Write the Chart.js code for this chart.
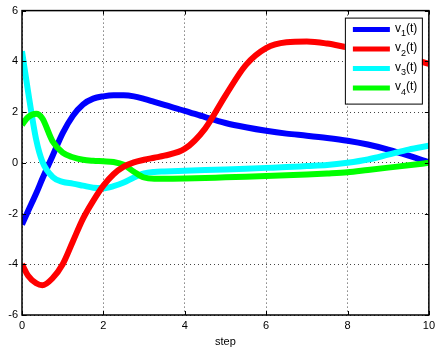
<!DOCTYPE html>
<html>
<head>
<meta charset="utf-8">
<script src="https://cdn.jsdelivr.net/npm/chart.js@4"></script>
<style>
  html, body { margin: 0; padding: 0; background: #fff; }
  #chart { display: block; }
</style>
</head>
<body>
<canvas id="chart" width="439" height="349"></canvas>
<script>
const steps = [0, 0.15, 0.35, 0.5, 0.75, 1, 1.25, 1.5, 1.75, 2, 2.25, 2.5, 2.75, 3, 3.25, 3.5, 4, 4.5, 5, 5.5, 6, 6.5, 7, 7.5, 8, 8.5, 9, 9.5, 10];

const v1 = [-2.43, -1.9, -1.2, -0.63, 0.27, 1.17, 1.85, 2.3, 2.53, 2.62, 2.66, 2.66, 2.62, 2.52, 2.4, 2.28, 2.05, 1.8, 1.57, 1.4, 1.26, 1.15, 1.07, 0.98, 0.87, 0.72, 0.52, 0.28, 0.02];
const v2 = [-4.0, -4.45, -4.75, -4.83, -4.55, -4.0, -3.1, -2.2, -1.5, -0.9, -0.45, -0.15, 0.02, 0.12, 0.2, 0.28, 0.55, 1.35, 2.65, 3.85, 4.52, 4.75, 4.78, 4.7, 4.55, 4.42, 4.28, 4.12, 3.9];
const v3 = [4.4, 2.8, 0.9, 0.05, -0.55, -0.75, -0.82, -0.9, -0.98, -1.0, -0.92, -0.78, -0.58, -0.42, -0.36, -0.34, -0.31, -0.28, -0.26, -0.23, -0.2, -0.17, -0.13, -0.09, 0.0, 0.13, 0.32, 0.52, 0.67];
const v4 = [1.5, 1.8, 1.93, 1.75, 0.85, 0.4, 0.22, 0.12, 0.08, 0.06, 0.03, -0.08, -0.35, -0.58, -0.63, -0.63, -0.62, -0.6, -0.57, -0.55, -0.52, -0.49, -0.46, -0.42, -0.37, -0.28, -0.19, -0.1, 0.0];

const seriesNames = ["v₁(t)", "v₂(t)", "v₃(t)", "v₄(t)"];
const subs = ["1", "2", "3", "4"];
const colors = ["#0000ff", "#ff0000", "#00ffff", "#00ff00"];
const drawOrder = [3, 0, 2, 1]; // lower = on top
const xTicks = [0, 2, 4, 6, 8, 10];
const yTicks = [-6, -4, -2, 0, 2, 4, 6];

const FONT = "'Liberation Sans', Arial, Helvetica, sans-serif";

const toPoints = (ys) => steps.map((x, i) => ({ x: x, y: ys[i] }));

// MATLAB style box with inward ticks on all four sides
const boxPlugin = {
  id: "box",
  afterDatasetsDraw(chart) {
    const { ctx, chartArea: a, scales } = chart;
    ctx.save();
    ctx.strokeStyle = "#000";
    ctx.lineWidth = 1;
    ctx.beginPath();
    xTicks.forEach((t) => {
      const px = Math.round(scales.x.getPixelForValue(t)) + 0.5;
      ctx.moveTo(px, a.bottom); ctx.lineTo(px, a.bottom - 4);
      ctx.moveTo(px, a.top); ctx.lineTo(px, a.top + 4);
    });
    yTicks.forEach((t) => {
      const py = Math.round(scales.y.getPixelForValue(t)) + 0.5;
      ctx.moveTo(a.left, py); ctx.lineTo(a.left + 4, py);
      ctx.moveTo(a.right, py); ctx.lineTo(a.right - 4, py);
    });
    ctx.stroke();
    ctx.lineWidth = 1.5;
    ctx.strokeRect(a.left, a.top, a.right - a.left, a.bottom - a.top);
    ctx.restore();
  },
};

// legend box in the upper right, with subscript text
const legendPlugin = {
  id: "matLegend",
  afterDraw(chart) {
    const { ctx, chartArea: a } = chart;
    const w = 77, h = 86;
    const x0 = a.right - w - 7, y0 = a.top + 7;
    ctx.save();
    ctx.fillStyle = "#fff";
    ctx.fillRect(x0, y0, w, h);
    ctx.strokeStyle = "#000";
    ctx.lineWidth = 1;
    ctx.strokeRect(x0 + 0.5, y0 + 0.5, w, h);
    subs.forEach((s, i) => {
      const cy = y0 + 12 + i * 19.5;
      ctx.strokeStyle = colors[i];
      ctx.lineWidth = 5;
      ctx.beginPath();
      ctx.moveTo(x0 + 8, cy);
      ctx.lineTo(x0 + 45, cy);
      ctx.stroke();
      ctx.fillStyle = "#000";
      ctx.textBaseline = "middle";
      ctx.font = "12px " + FONT;
      let tx = x0 + 50;
      ctx.fillText("v", tx, cy - 1);
      tx += ctx.measureText("v").width;
      ctx.font = "9px " + FONT;
      ctx.fillText(s, tx, cy + 4);
      tx += ctx.measureText(s).width;
      ctx.font = "12px " + FONT;
      ctx.fillText("(t)", tx, cy - 1);
    });
    ctx.restore();
  },
};

new Chart(document.getElementById("chart"), {
  type: "line",
  data: {
    datasets: [v1, v2, v3, v4].map((ys, i) => ({
      label: seriesNames[i],
      data: toPoints(ys),
      borderColor: colors[i],
      backgroundColor: colors[i],
      borderWidth: 6,
      pointRadius: 0,
      cubicInterpolationMode: "monotone",
      order: drawOrder[i],
    })),
  },
  options: {
    responsive: false,
    animation: false,
    layout: { padding: { top: 6, right: 6, left: 0, bottom: 0 } },
    plugins: {
      legend: { display: false },
      tooltip: { enabled: false },
    },
    scales: {
      x: {
        type: "linear",
        min: 0,
        max: 10,
        afterBuildTicks: (s) => { s.ticks = xTicks.map((v) => ({ value: v })); },
        afterFit: (s) => { s.height = 34; },
        grid: {
          color: "#444",
          lineWidth: 1,
          drawTicks: false,
        },
        border: { display: false, dash: [1, 3] },
        ticks: {
          color: "#000",
          padding: 4,
          maxRotation: 0,
          font: { family: FONT, size: 11 },
        },
        title: {
          display: true,
          text: "step",
          color: "#000",
          padding: { top: 0, bottom: 0 },
          font: { family: FONT, size: 11 },
        },
      },
      y: {
        min: -6,
        max: 6,
        afterBuildTicks: (s) => { s.ticks = yTicks.map((v) => ({ value: v })); },
        afterFit: (s) => { s.width = 22; },
        grid: {
          color: "#444",
          lineWidth: 1,
          drawTicks: false,
        },
        border: { display: false, dash: [1, 3] },
        ticks: {
          color: "#000",
          padding: 4,
          font: { family: FONT, size: 11 },
        },
      },
    },
  },
  plugins: [boxPlugin, legendPlugin],
});
</script>
</body>
</html>
